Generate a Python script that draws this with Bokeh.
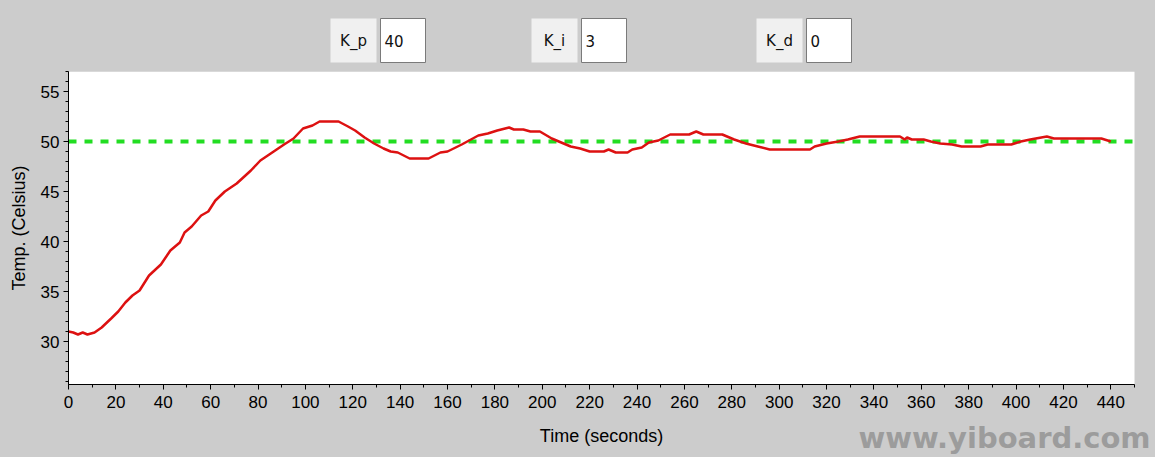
from bokeh.plotting import figure
from bokeh.layouts import column
from bokeh.models import (Range1d, SingleIntervalTicker, BoxAnnotation,
                          GlobalInlineStyleSheet)
from bokeh.core.properties import value
from bokeh.embed import file_html
from bokeh.resources import INLINE

# ---------------- data ----------------
time_s = [0, 2, 4, 6, 8, 11, 14, 18, 21, 24, 27, 30, 34, 39, 43, 47, 49, 52, 56, 59,
          62, 66, 71, 77, 81, 86, 91, 95, 99, 103, 106, 110, 114, 118, 121, 125, 129, 133, 136, 139,
          144, 148, 152, 157, 160, 166, 173, 177, 181, 186, 188, 192, 195, 199, 204, 208, 212, 216, 220, 226,
          228, 231, 236, 238, 242, 245, 249, 254, 262, 265, 268, 276, 281, 286, 291, 296, 302, 313, 315, 320,
          325, 329, 334, 351, 353, 354, 356, 361, 364, 368, 373, 377, 385, 388, 398, 402, 406, 413, 416, 436,
          440]
temp_c = [31.0, 30.9, 30.7, 30.9, 30.7, 30.9, 31.4, 32.3, 33.0, 33.9, 34.6, 35.1, 36.6, 37.7, 39.1, 39.9, 40.9, 41.5, 42.6, 43.0,
          44.1, 45.0, 45.8, 47.1, 48.1, 48.9, 49.7, 50.3, 51.3, 51.6, 52.0, 52.0, 52.0, 51.5, 51.1, 50.4, 49.8, 49.3, 49.0, 48.9,
          48.3, 48.3, 48.3, 48.9, 49.0, 49.7, 50.6, 50.8, 51.1, 51.4, 51.2, 51.2, 51.0, 51.0, 50.3, 49.9, 49.5, 49.3, 49.0, 49.0,
          49.2, 48.9, 48.9, 49.2, 49.4, 49.9, 50.1, 50.7, 50.7, 51.0, 50.7, 50.7, 50.2, 49.8, 49.5, 49.2, 49.2, 49.2, 49.5, 49.8,
          50.0, 50.2, 50.5, 50.5, 50.2, 50.4, 50.2, 50.2, 50.0, 49.8, 49.7, 49.5, 49.5, 49.7, 49.7, 50.0, 50.2, 50.5, 50.3, 50.3,
          50.0]
setpoint = 50
gain_names = ["K_p", "K_i", "K_d"]
gain_values = ["40", "3", "0"]
x_title = "Time (seconds)"
y_title = "Temp. (Celsius)"
watermark = "www.yiboard.com"

# ---------------- layout constants (page pixels) ----------------
BG = "#cccccc"
W, H = 1155, 457
TOP_H = 71                 # strip with the gain fields
FRAME_L, FRAME_R = 68, 1134
FRAME_B = 384
MAIN_BOTTOM = 417          # bottom of main figure (below tick labels)
X_MAX = 450.0              # end of the plotted time axis
Y_MIN, Y_MAX = 25.7, 57.0
px_per_unit = (FRAME_R - FRAME_L) / X_MAX
x_canvas_max = (W - FRAME_L) / px_per_unit

label_left = [330, 531, 756]
label_w = 46
input_gap = 4
input_w = 45
box_top, box_bot = 18, 62

common = dict(output_backend="svg", toolbar_location=None, title=None,
              min_border_left=FRAME_L, min_border_right=0,
              min_border_top=0, min_border_bottom=0,
              border_fill_color=BG, outline_line_color=None)

# ---------------- top strip (gain fields) ----------------
top = figure(width=W, height=TOP_H, x_range=Range1d(FRAME_L, W), y_range=Range1d(TOP_H, 0),
             x_axis_location=None, y_axis_location=None,
             background_fill_color=BG, **common)
top.grid.visible = False
ll = label_left
lr = [a + label_w for a in ll]
il = [a + input_gap for a in lr]
ir = [a + input_w for a in il]
top.quad(left=ll, right=lr, top=box_top, bottom=box_bot,
         fill_color="#f0f0f0", line_color=None)
top.quad(left=il, right=ir, top=box_top, bottom=box_bot,
         fill_color="white", line_color="#7a7a7a", line_width=1)
top.text(x=[(a + b) / 2 for a, b in zip(ll, lr)], y=[(box_top + box_bot) / 2] * 3,
         text=gain_names, text_align="center", text_baseline="middle",
         text_font=value("DejaVu Sans"), text_font_size="15px", text_color="#111111")
top.text(x=[a + 4 for a in il], y=[(box_top + box_bot) / 2] * 3,
         text=gain_values, text_align="left", text_baseline="middle",
         text_font=value("DejaVu Sans"), text_font_size="15px", text_color="#111111")

# ---------------- main chart ----------------
main_common = dict(common)
main_common["min_border_bottom"] = MAIN_BOTTOM - FRAME_B
p = figure(width=W, height=MAIN_BOTTOM - TOP_H,
           x_range=Range1d(0, x_canvas_max), y_range=Range1d(Y_MIN, Y_MAX),
           background_fill_color=BG, **main_common)
p.grid.visible = False
p.add_layout(BoxAnnotation(left=0, right=X_MAX, fill_color="white", fill_alpha=1.0,
                           line_color=None, level="underlay"))

p.xaxis.ticker = SingleIntervalTicker(interval=20, num_minor_ticks=2)
p.yaxis.ticker = SingleIntervalTicker(interval=5, num_minor_ticks=5)
p.xaxis.bounds = (0, X_MAX)
p.yaxis.axis_label = y_title
for ax in (p.xaxis, p.yaxis):
    ax.axis_line_color = "black"
    ax.major_tick_line_color = "black"
    ax.minor_tick_line_color = "black"
    ax.major_tick_in = 0
    ax.major_tick_out = 5
    ax.minor_tick_in = 0
    ax.minor_tick_out = 3
    ax.major_label_text_font = "Liberation Sans"
    ax.major_label_text_font_size = "17px"
    ax.major_label_text_color = "black"
    ax.axis_label_text_font = "Liberation Sans"
    ax.axis_label_text_font_size = "18px"
    ax.axis_label_text_font_style = "normal"
    ax.axis_label_text_color = "black"
p.xaxis.major_label_standoff = 6
p.yaxis.major_label_standoff = 4
p.yaxis.axis_label_standoff = 9

p.segment(x0=[0], y0=[setpoint], x1=[X_MAX], y1=[setpoint],
          line_color="#22dd22", line_width=4, line_dash="8 8")
p.line(time_s, temp_c, line_color="#dd1111", line_width=2.5)

# ---------------- bottom strip (axis title + watermark) ----------------
bot = figure(width=W, height=H - MAIN_BOTTOM, x_range=Range1d(FRAME_L, W),
             y_range=Range1d(H, MAIN_BOTTOM),
             x_axis_location=None, y_axis_location=None,
             background_fill_color=BG, **common)
bot.grid.visible = False
bot.text(x=[(FRAME_L + FRAME_R) / 2], y=[435], text=[x_title],
         text_align="center", text_baseline="middle",
         text_font=value("Liberation Sans"), text_font_size="18px", text_color="black")
bot.text(x=[858], y=[437], text=[watermark],
         text_align="left", text_baseline="middle",
         text_font=value("DejaVu Sans"), text_font_style="bold", text_font_size="29px",
         text_color="#9c9c9c")

layout = column(top, p, bot, spacing=0)
layout.stylesheets = [GlobalInlineStyleSheet(
    css="html, body { margin: 0; padding: 0; background: #cccccc; overflow: hidden; }")]

open("out.html", "w").write(file_html(layout, INLINE))
